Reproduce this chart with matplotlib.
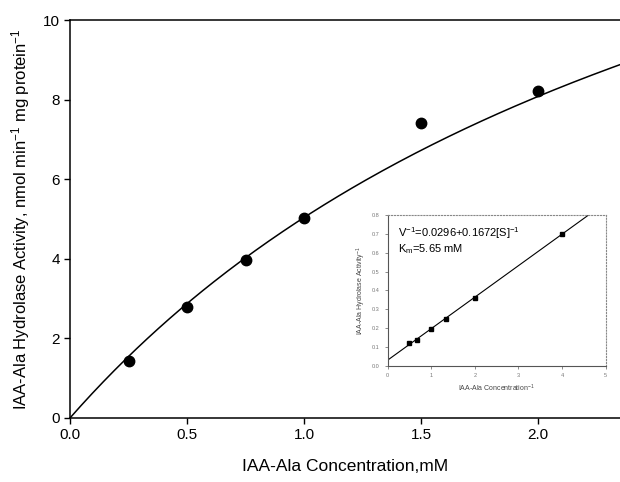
import matplotlib.pyplot as plt
import numpy as np

plt.rcParams['font.family'] = ['Liberation Sans', 'DejaVu Sans']
plt.rcParams['mathtext.fontset'] = 'custom'
plt.rcParams['mathtext.rm'] = 'Liberation Sans'
plt.rcParams['mathtext.it'] = 'Liberation Sans'

# measured activity
conc = [0.25, 0.5, 0.75, 1.0, 1.5, 2.0]
activity = [1.42, 2.78, 3.98, 5.03, 7.40, 8.22]

# fitted curve parameters
vmax_fit = 20.4
km_fit = 3.05

# Lineweaver-Burk inset
inv_conc = [0.5, 0.667, 1.0, 1.333, 2.0, 4.0]
inv_act = [0.12, 0.135, 0.195, 0.25, 0.36, 0.70]
lb_intercept = 0.0296
lb_slope = 0.1672

fig = plt.figure(figsize=(6.2, 4.82), dpi=100)
ax = fig.add_axes([0.113, 0.133, 0.887, 0.8255])

s = np.linspace(0, 2.35, 200)
ax.plot(s, vmax_fit * s / (km_fit + s), color='black', lw=1.1)
ax.plot(conc, activity, 'o', color='black', ms=7.5)

ax.set_xlim(0, 2.35)
ax.set_ylim(0, 10)
ax.set_xticks([0.0, 0.5, 1.0, 1.5, 2.0])
ax.set_xticklabels(['0.0', '0.5', '1.0', '1.5', '2.0'])
ax.set_yticks([0, 2, 4, 6, 8, 10])
ax.tick_params(labelsize=11, direction='out', length=4, width=1)
ax.spines['right'].set_visible(False)
for sp in ['top', 'left', 'bottom']:
    ax.spines[sp].set_linewidth(1.1)
ax.set_xlabel('IAA-Ala Concentration,mM', fontsize=12.5, labelpad=12)
ax.set_ylabel('IAA-Ala Hydrolase Activity, nmol min$^{\\mathrm{-1}}$ mg protein$^{\\mathrm{-1}}$',
              fontsize=12, labelpad=8)

# inset
ins = fig.add_axes([0.625, 0.241, 0.352, 0.313])
x = np.linspace(0, 4.65, 50)
ins.plot(x, lb_intercept + lb_slope * x, color='black', lw=0.8)
ins.plot(inv_conc, inv_act, 's', color='black', ms=3)
ins.set_xlim(0, 5)
ins.set_ylim(0, 0.8)
ins.set_xticks([0, 1, 2, 3, 4, 5])
ins.set_yticks([0, 0.1, 0.2, 0.3, 0.4, 0.5, 0.6, 0.7, 0.8])
ins.set_yticklabels(['0.0', '0.1', '0.2', '0.3', '0.4', '0.5', '0.6', '0.7', '0.8'])
ins.tick_params(labelsize=4, colors='#777777', length=2, width=0.6)
for sp in ['top', 'right']:
    ins.spines[sp].set_linestyle(':')
    ins.spines[sp].set_color('#888888')
    ins.spines[sp].set_linewidth(0.8)
for sp in ['left', 'bottom']:
    ins.spines[sp].set_color('#555555')
    ins.spines[sp].set_linewidth(0.8)
ins.set_xlabel('IAA-Ala Concentration$^{-1}$', fontsize=5, color='#444444', labelpad=3)
ins.set_ylabel('IAA-Ala Hydrolase Activity$^{-1}$', fontsize=5, color='#444444', labelpad=3)
ins.text(0.23, 0.685, 'V$^{-1}$=0.0296+0.1672[S]$^{-1}$', fontsize=8)
ins.text(0.23, 0.605, 'K$_m$=5.65 mM', fontsize=8)

fig.savefig('out.png', dpi=100)
